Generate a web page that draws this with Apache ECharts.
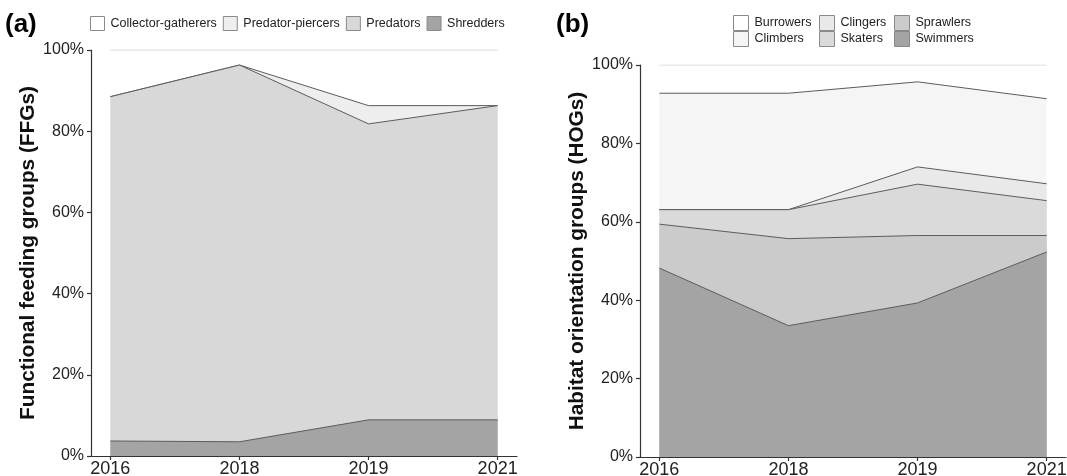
<!DOCTYPE html>
<html>
<head>
<meta charset="utf-8">
<script src="https://cdn.jsdelivr.net/npm/echarts@6/dist/echarts.min.js"></script>
<style>
  html, body { margin: 0; padding: 0; background: #fff; }
  #chart { width: 1067px; height: 476px; }
</style>
</head>
<body>
<div id="chart"></div>
<script>
// Sampling years (evenly spaced along the axis)
const years = ['2016', '2018', '2019', '2021'];

// (a) Functional feeding groups, % of individuals, bottom to top
const shredders          = [3.7, 3.5, 8.9, 8.9];
const predators          = [84.8, 92.8, 72.9, 77.4];
const predatorPiercers   = [0.0, 0.0, 4.5, 0.0];
const collectorGatherers = [11.5, 3.7, 13.7, 13.7];

// (b) Habitat orientation groups, % of individuals, bottom to top
const swimmers  = [48.2, 33.5, 39.3, 52.3];
const sprawlers = [11.2, 22.2, 17.2, 4.2];
const skaters   = [3.7, 7.4, 13.1, 8.9];
const clingers  = [0.0, 0.0, 4.4, 4.3];
const climbers  = [29.7, 29.7, 21.7, 21.7];
const burrowers = [7.2, 7.2, 4.3, 8.6];

// y-axis ticks
const pctTicks = [0, 20, 40, 60, 80, 100];

const FONT = '"Liberation Sans", Arial, Helvetica, sans-serif';
const OUTLINE = '#5c5c5c';
const TOPLINE = '#d4d4d4';

const groupsA = [
  { name: 'Shredders', vals: shredders, fill: '#a4a4a4' },
  { name: 'Predators', vals: predators, fill: '#d8d8d8' },
  { name: 'Predator-piercers', vals: predatorPiercers, fill: '#eeeeee' },
  { name: 'Collector-gatherers', vals: collectorGatherers, fill: '#ffffff' }
];
const groupsB = [
  { name: 'Swimmers', vals: swimmers, fill: '#a4a4a4' },
  { name: 'Sprawlers', vals: sprawlers, fill: '#cbcbcb' },
  { name: 'Skaters', vals: skaters, fill: '#dadada' },
  { name: 'Clingers', vals: clingers, fill: '#e9e9e9' },
  { name: 'Climbers', vals: climbers, fill: '#f5f5f5' },
  { name: 'Burrowers', vals: burrowers, fill: '#ffffff' }
];

// Stacked areas: each band is drawn as a filled area from 0 up to the running
// total; the upper bands are painted first so the lower ones sit in front.
function stackedSeries(groups, axisIdx) {
  const running = years.map(() => 0);
  const tops = groups.map(g => {
    g.vals.forEach((v, i) => { running[i] += v; });
    return running.slice();
  });
  return groups.map((g, k) => ({
    type: 'line',
    name: g.name,
    xAxisIndex: axisIdx,
    yAxisIndex: axisIdx,
    data: tops[k].map((v, i) => [i, v]),
    symbol: 'none',
    smooth: false,
    z: 2 + groups.length - k,
    itemStyle: { color: g.fill },
    lineStyle: { color: k === groups.length - 1 ? TOPLINE : OUTLINE, width: 1 },
    areaStyle: { color: g.fill, opacity: 1, origin: 'start' },
    emphasis: { disabled: true },
    silent: true,
    animation: false
  }));
}

function xAxisDef(idx) {
  return {
    type: 'value',
    gridIndex: idx,
    min: -0.15,
    max: 3.15,
    axisLine: { show: true, onZero: false, lineStyle: { color: '#333', width: 1.2 } },
    axisTick: { show: true, length: 4, customValues: [0, 1, 2, 3], lineStyle: { color: '#333', width: 1.2 } },
    axisLabel: {
      customValues: [0, 1, 2, 3],
      formatter: v => years[Math.round(v)],
      color: '#222', fontSize: 18, fontFamily: FONT, margin: 4
    },
    splitLine: { show: false }
  };
}

function yAxisDef(idx, title, gap) {
  return {
    type: 'value',
    gridIndex: idx,
    min: pctTicks[0],
    max: pctTicks[pctTicks.length - 1],
    interval: 20,
    name: title,
    nameLocation: 'middle',
    nameGap: gap,
    nameRotate: 90,
    nameTextStyle: { fontSize: 20.8, fontWeight: 'bold', color: '#111', fontFamily: FONT },
    axisLine: { show: true, onZero: false, lineStyle: { color: '#333', width: 1.2 } },
    axisTick: { show: true, length: 4, lineStyle: { color: '#333', width: 1.2 } },
    axisLabel: { formatter: '{value}%', color: '#222', fontSize: 16, fontFamily: FONT, margin: 7 },
    splitLine: { show: false }
  };
}

function legendDef(groups, names, left, top, size, orient, gap) {
  const fill = {};
  groups.forEach(g => { fill[g.name] = g.fill; });
  return {
    show: true,
    orient: orient,
    left: left,
    top: top,
    padding: 0,
    itemGap: gap,
    itemWidth: size,
    itemHeight: size,
    icon: 'rect',
    selectedMode: false,
    data: names.map(n => ({ name: n, itemStyle: { color: fill[n], borderColor: '#8a8a8a', borderWidth: 1 } })),
    textStyle: { fontSize: 12.5, color: '#222', fontFamily: FONT, padding: [0, 0, 0, 1] }
  };
}

const chart = echarts.init(document.getElementById('chart'), null, { renderer: 'canvas' });
chart.setOption({
  backgroundColor: '#ffffff',
  animation: false,
  textStyle: { fontFamily: FONT },
  grid: [
    { left: 91, right: 550, top: 50, bottom: 20, outerBoundsMode: 'none', containLabel: false },
    { left: 640, right: 1, top: 65, bottom: 19, outerBoundsMode: 'none', containLabel: false }
  ],
  xAxis: [xAxisDef(0), xAxisDef(1)],
  yAxis: [
    yAxisDef(0, 'Functional feeding groups (FFGs)', 52),
    yAxisDef(1, 'Habitat orientation groups (HOGs)', 52)
  ],
  legend: [
    legendDef(groupsA, ['Collector-gatherers', 'Predator-piercers', 'Predators', 'Shredders'], 90, 16, 14, 'horizontal', 6),
    legendDef(groupsB, ['Burrowers', 'Climbers'], 733, 15, 15, 'vertical', 0),
    legendDef(groupsB, ['Clingers', 'Skaters'], 819, 15, 15, 'vertical', 0),
    legendDef(groupsB, ['Sprawlers', 'Swimmers'], 894, 15, 15, 'vertical', 0)
  ],
  graphic: [
    { type: 'text', left: 5, top: 12, style: { text: '(a)', fontSize: 26, fontWeight: 'bold', fill: '#000', fontFamily: FONT } },
    { type: 'text', left: 556, top: 12, style: { text: '(b)', fontSize: 26, fontWeight: 'bold', fill: '#000', fontFamily: FONT } }
  ],
  series: stackedSeries(groupsA, 0).concat(stackedSeries(groupsB, 1))
});
</script>
</body>
</html>
